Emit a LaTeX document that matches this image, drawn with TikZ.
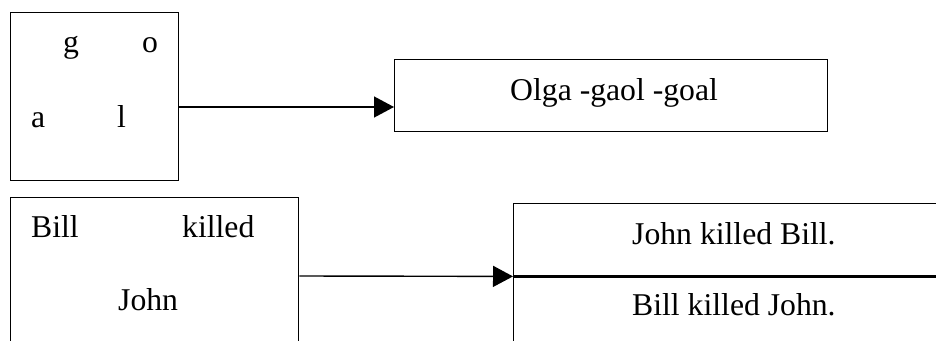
\documentclass[tikz,border=0pt]{standalone}
\usepackage{fontspec}
\setmainfont{Liberation Serif}
\usetikzlibrary{arrows.meta}
\begin{document}
\begin{tikzpicture}[x=1pt,y=-1pt,
  box/.style={draw, line width=1.4pt, inner sep=0pt, anchor=north west},
  txt/.style={inner sep=0pt, anchor=base west, font=\fontsize{31.7}{38}\selectfont},
  arr/.style={line width=1.4pt, -{Triangle[length=20pt,width=21pt]}}]
\useasboundingbox (0,0) rectangle (936,340);
\clip (0,0) rectangle (936,340);
% top row
\node[box, minimum width=168, minimum height=168] (b1) at (10,12) {};
\node[txt] (tg) at (63,52) {g};
\node[txt] (to) at (142,52) {o};
\node[txt] (ta) at (31,127) {a};
\node[txt] (tl) at (117,127) {l};
\node[box, minimum width=433, minimum height=72] (b2) at (394,59) {};
\node[txt] (olga) at (510,100) {Olga -gaol -goal};
\coordinate (a1) at (0,107);
\draw[arr] (b1.east |- a1) -- (b2.west |- a1);
% bottom row
\node[box, minimum width=288, minimum height=170] (b3) at (10,197) {};
\node[txt] (bill) at (31,237) {Bill};
\node[txt] (killed) at (182,237) {killed};
\node[txt] (john) at (118,310) {John};
\node[box, minimum width=440, minimum height=72] (b4) at (513,203) {};
\node[box, minimum width=440, minimum height=100] (b5) at (513,275) {};
\draw[line width=2.8pt] (b4.south west) -- (b4.south east);
\node[txt] (s1) at (632,244) {John killed Bill.};
\node[txt] (s2) at (632,315) {Bill killed John.};
\coordinate (a2) at (0,276);
\draw[arr] (b3.east |- a2) -- (b4.south west);
\end{tikzpicture}
\end{document}
